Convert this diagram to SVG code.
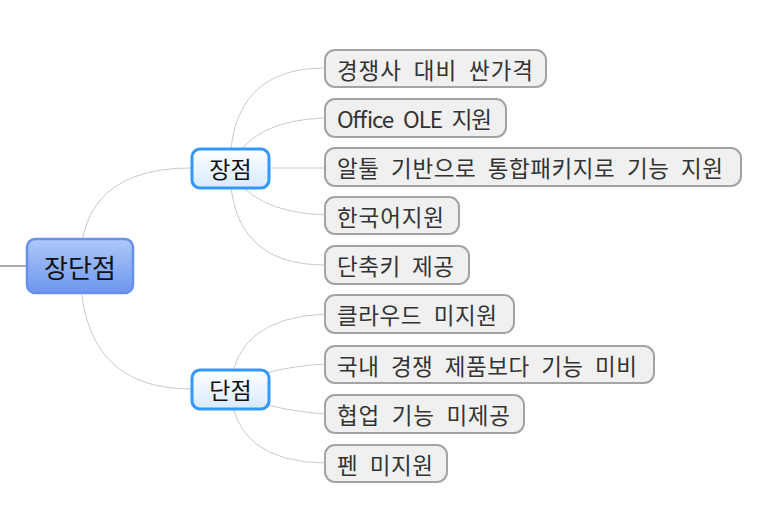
<svg xmlns="http://www.w3.org/2000/svg" width="784" height="523" viewBox="0 0 784 523">
<defs>
<linearGradient id="gRoot" x1="0" y1="0" x2="0" y2="1"><stop offset="0" stop-color="#aec8f7"/><stop offset="1" stop-color="#6d96ee"/></linearGradient>
<linearGradient id="gMain" x1="0" y1="0" x2="0" y2="1"><stop offset="0" stop-color="#ffffff"/><stop offset="1" stop-color="#d6eaff"/></linearGradient>
</defs>
<style>
text{font-family:"Noto Sans CJK KR","Malgun Gothic",sans-serif;fill:#333;dominant-baseline:central;}
.leaf rect{fill:#f0f0f0;stroke:#a3a3a3;stroke-width:2;}
.leaf text{font-size:22.5px;word-spacing:6px;}
.main rect{fill:url(#gMain);stroke:#3597fb;stroke-width:3;}
.main text{font-size:23px;fill:#111;text-anchor:middle;}
.conn path{fill:none;stroke:#c9c9c9;stroke-width:1;}
</style>
<g id="connectors" class="conn">
<path d="M0 266 H30" style="stroke:#aaaaaa;stroke-width:2"/>
<path d="M80 266 Q80 168 191 168"/>
<path d="M80 266 Q80 389 191 389"/>
<path d="M230 168 Q230 68 325 68"/>
<path d="M230 168 Q250 120 325 118"/>
<path d="M230 168 H325"/>
<path d="M230 168 Q250 212 325 215"/>
<path d="M230 168 Q230 265 325 265"/>
<path d="M230 389 Q235 318 325 314"/>
<path d="M230 389 Q260 368 325 364"/>
<path d="M230 389 Q260 409 325 414"/>
<path d="M230 389 Q235 462 325 463"/>
</g>
<g id="root">
<rect x="27" y="239" width="106" height="54" rx="8" fill="url(#gRoot)" stroke="#6a8fea" stroke-width="2.5"/>
<text x="80" y="266" style="font-size:26px;fill:#111;text-anchor:middle">장단점</text>
</g>
<g id="pros" class="main">
<rect x="192" y="149" width="77" height="39" rx="8"/>
<text x="230.5" y="168">장점</text>
</g>
<g id="cons" class="main">
<rect x="192" y="370" width="77" height="39" rx="8"/>
<text x="230.5" y="389">단점</text>
</g>
<g id="p1" class="leaf"><rect x="325" y="50" width="221" height="37" rx="10"/><text x="337" y="68.5" textLength="196" lengthAdjust="spacing">경쟁사 대비 싼가격</text></g>
<g id="p2" class="leaf"><rect x="325" y="99" width="181" height="38" rx="10"/><text x="337" y="118" textLength="155" lengthAdjust="spacing">Office OLE 지원</text></g>
<g id="p3" class="leaf"><rect x="325" y="148" width="416" height="38" rx="10"/><text x="337" y="167" textLength="386" lengthAdjust="spacing">알툴 기반으로 통합패키지로 기능 지원</text></g>
<g id="p4" class="leaf"><rect x="325" y="197" width="134" height="37" rx="10"/><text x="337" y="215.5" textLength="107" lengthAdjust="spacing">한국어지원</text></g>
<g id="p5" class="leaf"><rect x="325" y="246" width="144" height="38" rx="10"/><text x="337" y="265" textLength="117" lengthAdjust="spacing">단축키 제공</text></g>
<g id="c1" class="leaf"><rect x="325" y="295" width="189" height="38" rx="10"/><text x="337" y="314" textLength="160" lengthAdjust="spacing">클라우드 미지원</text></g>
<g id="c2" class="leaf"><rect x="325" y="346" width="329" height="37" rx="10"/><text x="337" y="364.5" textLength="300" lengthAdjust="spacing">국내 경쟁 제품보다 기능 미비</text></g>
<g id="c3" class="leaf"><rect x="325" y="395" width="199" height="38" rx="10"/><text x="337" y="414" textLength="173" lengthAdjust="spacing">협업 기능 미제공</text></g>
<g id="c4" class="leaf"><rect x="325" y="445" width="122" height="37" rx="10"/><text x="337" y="463.5" textLength="96" lengthAdjust="spacing">펜 미지원</text></g>
</svg>
